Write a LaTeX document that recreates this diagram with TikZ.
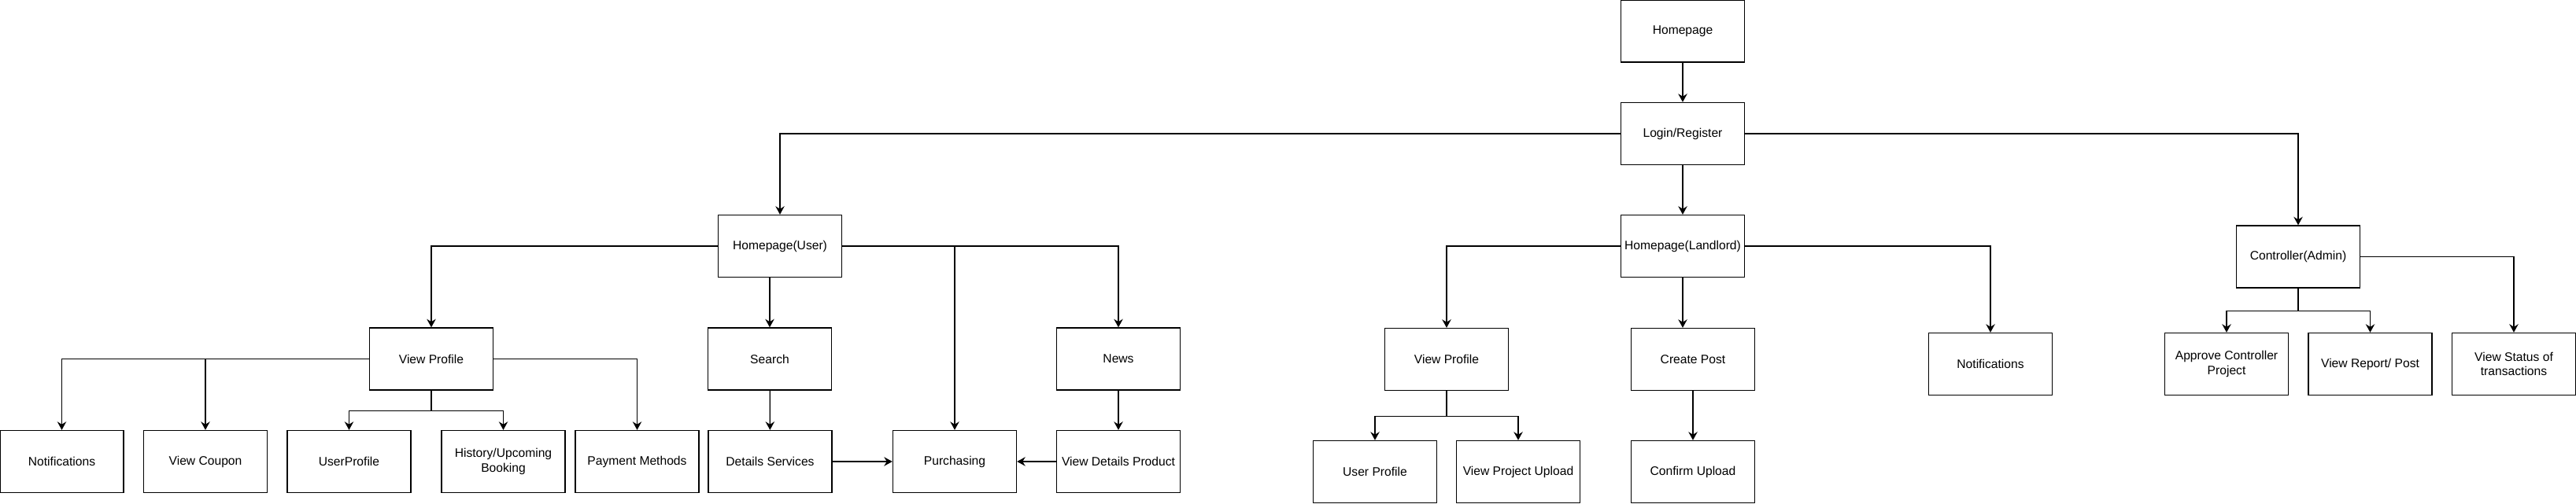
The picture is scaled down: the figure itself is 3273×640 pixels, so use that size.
\documentclass[tikz,border=0pt]{standalone}
\usepackage{fontspec}
\setmainfont{Liberation Sans}
\usetikzlibrary{arrows.meta,positioning}

\begin{document}
\begin{tikzpicture}[x=0.02cm,y=-0.02cm,line width=0.75pt,>={Stealth[length=6pt,width=6.5pt,inset=2pt]},
  box/.style={draw,line width=0.8pt,minimum width=3.14cm,minimum height=1.58cm,inner sep=1pt,align=center,font=\fontsize{8.9}{10.7}\selectfont}]
  \useasboundingbox (0,0) rectangle (3273,640);

  \node[box] (home)   at (2138,39.5)  {Homepage};
  \node[box] (login)  at (2138,170)   {Login/Register};
  \node[box] (hu)     at (991,313)    {Homepage(User)};
  \node[box] (hl)     at (2138,313)   {Homepage(Landlord)};
  \node[box] (admin)  at (2920,326.5) {Controller(Admin)};

  \node[box] (uprof)  at (548,456.5)  {View Profile};
  \node[box] (search) at (978,456.5)  {Search};
  \node[box] (news)   at (1421,456.5) {News};
  \node[box] (unotif) at (78.5,587)   {Notifications};
  \node[box] (coupon) at (261,587)    {View Coupon};
  \node[box] (uuser)  at (443.5,587)  {UserProfile};
  \node[box] (hist)   at (639.5,587)  {History/Upcoming\\Booking};
  \node[box] (pay)    at (809.5,587)  {Payment Methods};
  \node[box] (detail) at (978.5,587)  {Details Services};
  \node[box] (purch)  at (1213,587)   {Purchasing};
  \node[box] (vdp)    at (1421,587)   {View Details Product};

  \node[box] (lprof)  at (1838,457)   {View Profile};
  \node[box] (post)   at (2151,457)   {Create Post};
  \node[box] (lnotif) at (2529,463)   {Notifications};
  \node[box] (luser)  at (1747,600)   {User Profile};
  \node[box] (vpu)    at (1929,600)   {View Project Upload};
  \node[box] (conf)   at (2151,600)   {Confirm Upload};

  \node[box] (appr)   at (2829,463)   {Approve Controller\\Project};
  \node[box] (rep)    at (3011.5,463) {View Report/ Post};
  \node[box] (stat)   at (3194,463)   {View Status of\\transactions};

  \path[->] (home) edge (login);
  \draw[->] (login) -| (hu);
  \draw[->] (login) -- (hl);
  \draw[->] (login) -| (admin);

  \draw[->] (hu) -| (uprof);
  \draw[->] (search |- hu.south) -- (search);
  \draw[->] (hu) -| (news);
  \draw[->] (hu) -| (purch);
  \draw[->] (search) -- (detail);
  \draw[->] (detail) -- (purch);
  \draw[->] (news) -- (vdp);
  \draw[->] (vdp) -- (purch);

  \draw[->] (uprof) -| (unotif);
  \draw[->] (uprof) -| (coupon);
  \draw[->] (uprof) -| (pay);
  \draw[->] (uprof.south) -- ++(0,26) -| (uuser);
  \draw[->] (uprof.south) -- ++(0,26) -| (hist);

  \draw[->] (hl) -| (lprof);
  \draw[->] (hl.south) -- (hl.south |- post.north);
  \draw[->] (hl) -| (lnotif);
  \draw[->] (lprof.south) -- ++(0,32) -| (luser);
  \draw[->] (lprof.south) -- ++(0,32) -| (vpu);
  \draw[->] (post) -- (conf);

  \draw[->] (admin) -| (stat);
  \draw[->] (admin.south) -- ++(0,29) -| (appr);
  \draw[->] (admin.south) -- ++(0,29) -| (rep);
\end{tikzpicture}
\end{document}
